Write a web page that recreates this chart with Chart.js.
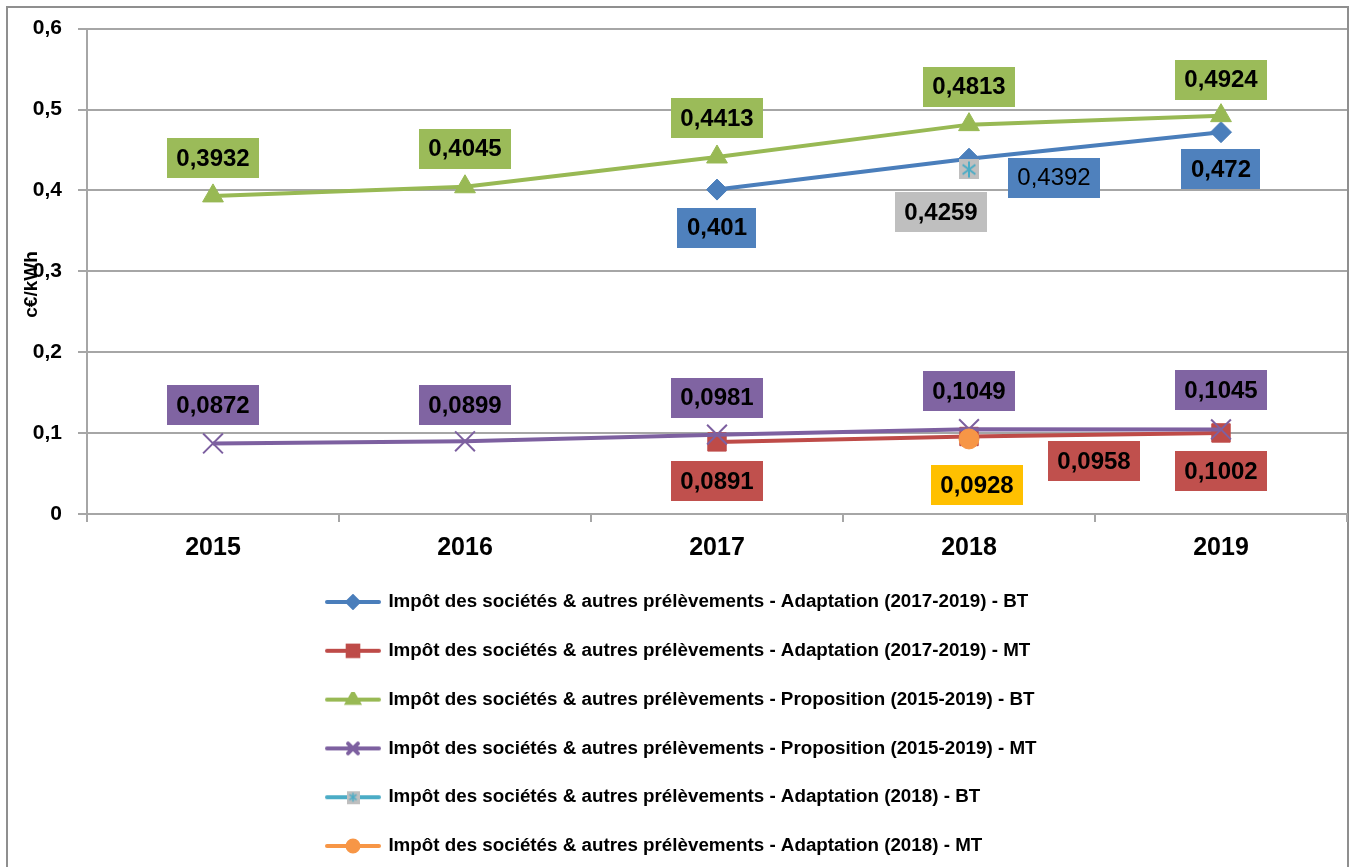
<!DOCTYPE html>
<html>
<head>
<meta charset="utf-8">
<script src="https://cdn.jsdelivr.net/npm/chart.js@4.4.1/dist/chart.umd.min.js"></script>
<style>
  html, body { margin: 0; padding: 0; background: #fff; }
  #wrap { width: 1352px; height: 867px; }
</style>
</head>
<body>
<div id="wrap"><canvas id="chart"></canvas></div>
<script>
// data
var years = ['2015', '2016', '2017', '2018', '2019'];
var adaptBT   = [null, null, 0.401, 0.4392, 0.472];
var adaptMT   = [null, null, 0.0891, 0.0958, 0.1002];
var propBT    = [0.3932, 0.4045, 0.4413, 0.4813, 0.4924];
var propMT    = [0.0872, 0.0899, 0.0981, 0.1049, 0.1045];
var adapt18BT = [null, null, null, 0.4259, null];
var adapt18MT = [null, null, null, 0.0928, null];
var yTickLabels = ['0', '0,1', '0,2', '0,3', '0,4', '0,5', '0,6'];
var seriesNames = [
  'Impôt des sociétés & autres prélèvements - Adaptation (2017-2019) - BT',
  'Impôt des sociétés & autres prélèvements - Adaptation (2017-2019) - MT',
  'Impôt des sociétés & autres prélèvements - Proposition (2015-2019) - BT',
  'Impôt des sociétés & autres prélèvements - Proposition (2015-2019) - MT',
  'Impôt des sociétés & autres prélèvements - Adaptation (2018) - BT',
  'Impôt des sociétés & autres prélèvements - Adaptation (2018) - MT'
];

var FONT = '"Liberation Sans", Arial, sans-serif';
var gridCol = '#a6a6a6';

// value label boxes: fill colour and offset of box centre from the point
var labelStyle = [
  { fill: '#4F81BD', offsets: [null, null, [0, 38], [85, 19], [0, 37]], thin: [3] },
  { fill: '#C0504D', offsets: [null, null, [0, 39], [125, 25], [0, 38]] },
  { fill: '#9BBB59', offsets: [[0, -38], [0, -38], [0, -39], [0, -38], [0, -36]] },
  { fill: '#8064A2', offsets: [[0, -38], [0, -36], [0, -37], [0, -38], [0, -39]] },
  { fill: '#BFBFBF', offsets: [null, null, null, [-28, 43], null] },
  { fill: '#FFC000', offsets: [null, null, null, [8, 46], null] }
];

function starBox(size, lw) {
  var c = document.createElement('canvas');
  c.width = size; c.height = size;
  var g = c.getContext('2d');
  g.fillStyle = '#BFBFBF';
  g.fillRect(0, 0, size, size);
  g.strokeStyle = '#4BACC6';
  g.lineWidth = lw;
  var m = size / 2, r = size / 2 - 2;
  g.beginPath();
  g.moveTo(m, m - r); g.lineTo(m, m + r);
  g.moveTo(m - r * 0.8, m - r * 0.6); g.lineTo(m + r * 0.8, m + r * 0.6);
  g.moveTo(m - r * 0.8, m + r * 0.6); g.lineTo(m + r * 0.8, m - r * 0.6);
  g.stroke();
  return c;
}

function legendIcon(color, style, radius, markLw) {
  var c = document.createElement('canvas');
  c.width = 56; c.height = 16;
  var g = c.getContext('2d');
  g.strokeStyle = color;
  g.lineWidth = 4;
  g.lineCap = 'round';
  g.beginPath(); g.moveTo(2, 8); g.lineTo(54, 8); g.stroke();
  if (typeof style === 'object') {
    g.drawImage(style, 28 - style.width / 2, 8 - style.height / 2);
  } else {
    g.fillStyle = color;
    Chart.helpers.drawPoint(g, { pointStyle: style, radius: radius, borderWidth: markLw, rotation: 0 }, 28, 8);
  }
  return c;
}

var starBig = starBox(20, 2);
var starSmall = starBox(13, 1.5);

var colors = ['#4A7EBB', '#BE4B48', '#98B954', '#7D60A0', '#4BACC6', '#F79646'];
var icons = [
  legendIcon(colors[0], 'rectRot', 5.5, 1),
  legendIcon(colors[1], 'rect', 7.5, 1),
  legendIcon(colors[2], 'triangle', 6.5, 1),
  legendIcon(colors[3], 'crossRot', 7, 1.5),
  legendIcon(colors[4], starSmall),
  legendIcon(colors[5], 'circle', 5.5, 1)
];

function line(i, data, style, radius, pbw) {
  return {
    label: seriesNames[i],
    data: data,
    borderColor: colors[i],
    backgroundColor: colors[i],
    borderWidth: 4,
    pointStyle: style,
    pointRadius: radius,
    pointHoverRadius: radius,
    pointBackgroundColor: colors[i],
    pointBorderColor: colors[i],
    pointBorderWidth: pbw,
    order: 6 - i
  };
}

var borderBox = {
  id: 'borderBox',
  beforeDraw: function (chart) {
    var ctx = chart.ctx;
    ctx.save();
    ctx.fillStyle = '#fff';
    ctx.fillRect(0, 0, chart.width, chart.height);
    ctx.strokeStyle = '#8f8f8f';
    ctx.lineWidth = 2;
    ctx.strokeRect(7, 7, 1341, 1000);
    ctx.restore();
  }
};

// the legend sits in the chart area box, then gets moved below the axis
var legendPlacer = {
  id: 'legendPlacer',
  afterLayout: function (chart) {
    var l = chart.legend;
    l.left = 297;
    l.right = 297 + l.width;
    l.top = 562.6;
    l.bottom = 1200;
  }
};

var valueBoxes = {
  id: 'valueBoxes',
  afterDatasetsDraw: function (chart) {
    var ctx = chart.ctx;
    ctx.save();
    ctx.textAlign = 'center';
    ctx.textBaseline = 'middle';
    chart.data.datasets.forEach(function (ds, i) {
      var meta = chart.getDatasetMeta(i);
      var st = labelStyle[i];
      meta.data.forEach(function (pt, j) {
        var v = ds.data[j];
        if (v === null || !st.offsets[j]) return;
        var txt = String(v).replace('.', ',');
        var thin = st.thin && st.thin.indexOf(j) >= 0;
        ctx.font = (thin ? '' : 'bold ') + '24px ' + FONT;
        var w = ctx.measureText(txt).width + 19, h = 40;
        var cx = pt.x + st.offsets[j][0], cy = pt.y + st.offsets[j][1];
        ctx.fillStyle = st.fill;
        ctx.fillRect(Math.round(cx - w / 2), Math.round(cy - h / 2), Math.round(w), h);
        ctx.fillStyle = '#000';
        ctx.fillText(txt, cx, cy + 1);
      });
    });
    ctx.restore();
  }
};

new Chart(document.getElementById('chart'), {
  type: 'line',
  data: {
    labels: years,
    datasets: [
      line(0, adaptBT, 'rectRot', 10.5, 1),
      line(1, adaptMT, 'rect', 13, 1),
      line(2, propBT, 'triangle', 12, 1),
      line(3, propMT, 'crossRot', 14, 2),
      line(4, adapt18BT, starBig, 10, 1),
      line(5, adapt18MT, 'circle', 10, 1)
    ]
  },
  options: {
    responsive: true,
    maintainAspectRatio: false,
    animation: false,
    // big markers would otherwise add auto padding on the right
    layout: { autoPadding: false, padding: { top: 27, right: 5, bottom: 303, left: 0 } },
    plugins: {
      tooltip: { enabled: false },
      legend: {
        position: 'chartArea',
        fullSize: false,
        align: 'start',
        labels: {
          usePointStyle: true,
          pointStyleWidth: 52,
          padding: 30,
          color: '#000',
          font: { family: FONT, size: 18.8, weight: 'bold' },
          generateLabels: function (chart) {
            return chart.data.datasets.map(function (ds, i) {
              return {
                text: ds.label,
                pointStyle: icons[i],
                fillStyle: colors[i],
                strokeStyle: colors[i],
                lineWidth: 0,
                hidden: false,
                datasetIndex: i
              };
            });
          }
        }
      }
    },
    scales: {
      x: {
        offset: true,
        afterFit: function (s) { s.height = 50; s.paddingLeft = 0; s.paddingRight = 0; },
        grid: { offset: true, drawOnChartArea: false, drawTicks: true, tickLength: 8, color: gridCol, lineWidth: 2 },
        border: { display: true, color: gridCol, width: 2 },
        ticks: { color: '#000', padding: 11, font: { family: FONT, size: 25, weight: 'bold' } }
      },
      y: {
        min: 0,
        max: 0.6,
        afterFit: function (s) { s.width = 87; },
        grid: { color: gridCol, lineWidth: 2, drawTicks: true, tickLength: 9 },
        border: { display: true, color: gridCol, width: 2 },
        ticks: {
          stepSize: 0.1,
          padding: 16,
          color: '#000',
          font: { family: FONT, size: 21, weight: 'bold' },
          callback: function (v, idx) { return yTickLabels[idx]; }
        },
        title: {
          display: true,
          // trailing spaces push the rotated title a little lower, as in the picture
          text: 'c€/kWh\u00a0\u00a0\u00a0\u00a0\u00a0',
          color: '#000',
          padding: { top: 20, bottom: 0 },
          font: { family: FONT, size: 19, weight: 'bold' }
        }
      }
    }
  },
  plugins: [borderBox, legendPlacer, valueBoxes]
});
</script>
</body>
</html>
